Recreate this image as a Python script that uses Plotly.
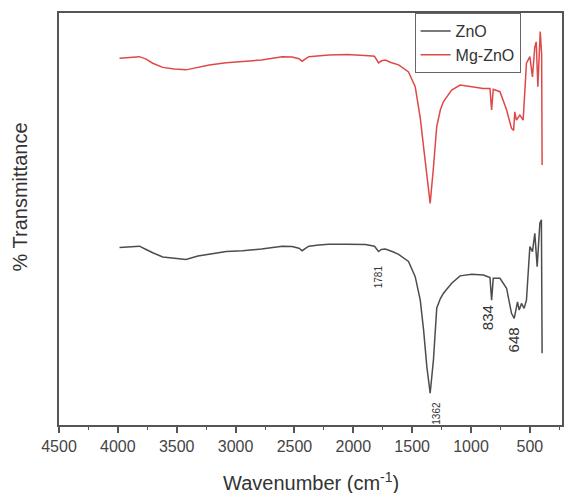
import plotly.graph_objects as go

# ---- data (wavenumber cm-1, % transmittance, arbitrary offset) ----
wn_zno = [3986, 3900, 3817, 3760, 3704, 3619, 3520, 3421, 3320, 3224, 3080, 2942, 2780,
          2603, 2520, 2462, 2434, 2400, 2377, 2293, 2208, 2050, 1897, 1820, 1785, 1762,
          1728, 1670, 1615, 1531, 1474, 1431, 1403, 1375, 1347, 1319, 1291, 1260, 1234,
          1164, 1093, 994, 895, 839, 825, 811, 754, 698, 656, 633, 605, 591, 571, 549,
          529, 500, 478, 458, 438, 415, 402, 396]
t_zno = [43.1, 43.2, 43.4, 42.6, 41.8, 40.8, 40.5, 40.2, 41.0, 41.5, 42.1, 42.3, 42.7,
         43.4, 43.3, 42.9, 42.3, 43.0, 43.4, 43.7, 43.9, 43.9, 43.8, 43.4, 42.1, 42.6,
         42.7, 42.1, 41.4, 39.7, 36.0, 30.3, 23.1, 14.1, 7.7, 15.8, 28.4, 30.7, 32.0,
         34.4, 36.2, 36.6, 36.4, 35.8, 30.3, 35.6, 35.6, 33.2, 27.1, 25.9, 29.9, 27.9,
         29.5, 28.3, 30.3, 43.3, 42.1, 46.5, 38.4, 49.0, 49.8, 17.4]

wn_mgzno = [3986, 3900, 3817, 3760, 3704, 3619, 3520, 3421, 3320, 3224, 3080, 2942, 2780,
            2603, 2520, 2462, 2434, 2400, 2377, 2208, 2050, 1869, 1820, 1785, 1760, 1728,
            1680, 1615, 1531, 1474, 1431, 1403, 1375, 1347, 1319, 1291, 1260, 1234, 1164,
            1093, 994, 895, 839, 825, 811, 754, 698, 656, 638, 628, 614, 585, 557, 529,
            500, 478, 458, 446, 432, 412, 400, 396]
t_mgzno = [89.0, 89.2, 89.4, 88.8, 87.8, 86.8, 86.4, 86.2, 86.8, 87.4, 87.9, 88.2, 88.6,
           89.4, 89.3, 88.9, 88.3, 89.0, 89.4, 89.8, 89.9, 89.6, 89.5, 87.9, 88.4, 88.6,
           88.0, 87.4, 85.7, 82.1, 74.5, 67.5, 60.0, 53.8, 62.5, 72.5, 76.5, 78.5, 81.3,
           82.5, 82.1, 81.7, 81.7, 76.5, 81.5, 80.9, 76.5, 72.0, 71.5, 76.0, 74.0, 75.2,
           74.0, 87.8, 89.4, 84.5, 91.8, 93.0, 82.1, 95.5, 90.0, 63.1]

series_names = ["ZnO", "Mg-ZnO"]
x_ticks = [4500, 4000, 3500, 3000, 2500, 2000, 1500, 1000, 500]

peak_labels = ["1781", "1362", "834", "648"]
peak_x = [1785, 1300, 853, 641]
peak_y = [36.0, 2.9, 26.0, 20.6]
peak_sizes = [10, 10, 15, 15]

FONT = "Liberation Sans, Arial, sans-serif"

fig = go.Figure()
fig.add_trace(go.Scatter(x=wn_zno, y=t_zno, mode="lines", name=series_names[0],
                         line=dict(color="#4d4d4d", width=1.5)))
fig.add_trace(go.Scatter(x=wn_mgzno, y=t_mgzno, mode="lines", name=series_names[1],
                         line=dict(color="#e04848", width=1.5)))

for lbl, px, py, sz in zip(peak_labels, peak_x, peak_y, peak_sizes):
    fig.add_annotation(x=px, y=py, xref="x", yref="y", text=lbl, showarrow=False,
                       textangle=-90, font=dict(family=FONT, size=sz, color="#333333"))

# axis titles
fig.add_annotation(x=0.5, y=-0.136, xref="paper", yref="paper",
                   text="Wavenumber (cm<sup>-1</sup>)", showarrow=False,
                   xanchor="center", yanchor="middle", borderpad=0,
                   font=dict(family=FONT, size=20, color="#333333"))
fig.add_annotation(x=-0.077, y=0.553, xref="paper", yref="paper",
                   text="% Transmittance", showarrow=False, textangle=-90,
                   xanchor="center", yanchor="middle",
                   font=dict(family=FONT, size=20, color="#333333"))

fig.update_layout(
    width=567, height=493,
    margin=dict(l=59, r=3, t=13, b=68),
    paper_bgcolor="white", plot_bgcolor="white",
    showlegend=True,
    legend=dict(x=0.707, y=1.0, xanchor="left", yanchor="top",
                bgcolor="rgba(255,255,255,0)", bordercolor="#666666", borderwidth=1,
                font=dict(family=FONT, size=16, color="#333333"),
                tracegroupgap=0, itemwidth=30),
    font=dict(family=FONT),
)
fig.update_xaxes(range=[4500, 227], tickvals=x_ticks, ticktext=[str(v) for v in x_ticks],
                 showgrid=False, zeroline=False, showline=True, mirror=True,
                 linecolor="#555555", linewidth=1.5,
                 ticks="outside", ticklen=6, tickwidth=1.5, tickcolor="#555555",
                 minor=dict(ticks="outside", ticklen=3, tickwidth=1.2, tickcolor="#555555",
                            tickvals=[4250, 3750, 3250, 2750, 2250, 1750, 1250, 750, 250]),
                 tickfont=dict(family=FONT, size=16, color="#444444"))
fig.update_yaxes(range=[0, 100], showgrid=False, zeroline=False, showline=True, mirror=True,
                 linecolor="#555555", linewidth=1.5, ticks="", showticklabels=False)

fig.write_html("out.html", config={"displayModeBar": False})

# remove the browser's default page margin so the figure sits at the top-left corner
with open("out.html", "r", encoding="utf-8") as f:
    html = f.read()
html = html.replace("<head>", "<head><style>html,body{margin:0;padding:0;overflow:hidden;}</style>", 1)
with open("out.html", "w", encoding="utf-8") as f:
    f.write(html)
